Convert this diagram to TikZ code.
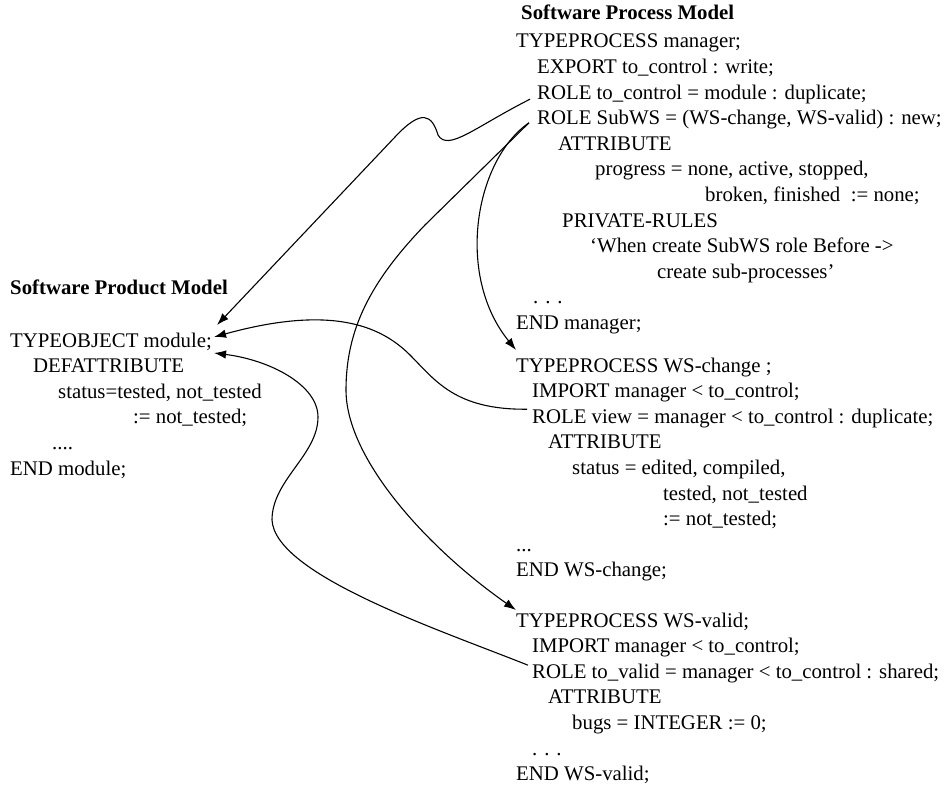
\documentclass[tikz,border=0pt]{standalone}
\usepackage{fontspec}
\setmainfont{Liberation Serif}
\usetikzlibrary{arrows.meta}
\newcommand{\codefont}{\fontsize{20.8}{25}\selectfont}

\begin{document}
\begin{tikzpicture}[x=1pt, y=-1pt,
    codeline/.style={anchor=base west, inner sep=0pt, font=\codefont},
    heading/.style={codeline, font=\codefont\bfseries},
    link/.style={-{Latex[length=12pt,width=8.5pt]}, line width=1.1pt},
  ]
  \useasboundingbox (0,0) rectangle (945,786);

  % Software Process Model
  \node[heading] (ptitle) at (521,20) {Software Process Model};
  \node[codeline] (pproc) at (516,48) {TYPEPROCESS manager;};
  \node[codeline] (pexport) at (537,73.6) {EXPORT to\_control : write;};
  \node[codeline] (pctrl) at (537,99.2) {ROLE to\_control = module : duplicate;};
  \node[codeline] (psub) at (537,124.8) {ROLE SubWS = (WS-change, WS-valid) : new;};
  \node[codeline] (pattr) at (558,150.4) {ATTRIBUTE};
  \node[codeline] (pprog) at (595,176) {progress = none, active, stopped,};
  \node[codeline] (pbroken) at (705,201.6) {broken, finished \ := none;};
  \node[codeline] (prules) at (562,227.2) {PRIVATE-RULES};
  \node[codeline] (pwhen) at (590,252.8) {`When create SubWS role Before ->};
  \node[codeline] (pcreate) at (657,278.4) {create sub-processes'};
  \node[codeline] (pdots) at (533,304) {. . .};
  \node[codeline] (pend) at (516,329.6) {END manager;};

  \node[codeline] (cproc) at (516,372) {TYPEPROCESS WS-change ;};
  \node[codeline] (cimport) at (532,397.6) {IMPORT manager < to\_control;};
  \node[codeline] (cview) at (532,423.2) {ROLE view = manager < to\_control : duplicate;};
  \node[codeline] (cattr) at (548,448.8) {ATTRIBUTE};
  \node[codeline] (cstatus) at (572,474.4) {status = edited, compiled,};
  \node[codeline] (ctested) at (663,500) {tested, not\_tested};
  \node[codeline] (cdefault) at (663,525.6) {:= not\_tested;};
  \node[codeline] (cdots) at (516,551.2) {...};
  \node[codeline] (cend) at (516,576.8) {END WS-change;};

  \node[codeline] (vproc) at (516,627) {TYPEPROCESS WS-valid;};
  \node[codeline] (vimport) at (532,652.6) {IMPORT manager < to\_control;};
  \node[codeline] (vrole) at (532,678.2) {ROLE to\_valid = manager < to\_control : shared;};
  \node[codeline] (vattr) at (548,703.8) {ATTRIBUTE};
  \node[codeline] (vbugs) at (572,729.4) {bugs = INTEGER := 0;};
  \node[codeline] (vdots) at (532,755) {. . .};
  \node[codeline] (vend) at (516,780.6) {END WS-valid;};

  % Software Product Model
  \node[heading] (otitle) at (10,295) {Software Product Model};
  \node[codeline] (omod) at (10,347) {TYPEOBJECT module;};
  \node[codeline] (odef) at (33,372.6) {DEFATTRIBUTE};
  \node[codeline] (ostatus) at (58,398.2) {status=tested, not\_tested};
  \node[codeline] (odefault) at (133,423.8) {:= not\_tested;};
  \node[codeline] (odots) at (52,449.4) {....};
  \node[codeline] (oend) at (10,475) {END module;};

  % role links
  \draw[link] ([xshift=-7pt]pctrl.base west) .. controls (475,127) and (448,152) .. (438,135)
    .. controls (432,115) and (422,108) .. (395,137) -- ([xshift=5pt,yshift=22pt]omod.base east);
  \draw[link] ([xshift=-8pt,yshift=2pt]psub.base west) .. controls (475,160) and (455,275)
    .. ([yshift=22pt]cproc.base west);
  \draw[link] ([xshift=-8pt,yshift=2pt]psub.base west) -- (425,225)
    .. controls (370,282) and (346,330) .. (346,390)
    .. controls (346,460) and (430,550) .. ([yshift=17pt]vproc.base west);
  \draw[link] ([xshift=-5pt,yshift=14pt]cview.base west) .. controls (455,410) and (435,380) .. (410,355)
    .. controls (380,325) and (330,305) .. ([xshift=2pt,yshift=10pt]omod.base east);
  \draw[link] ([xshift=-4pt,yshift=13pt]vrole.base west) .. controls (440,630) and (275,575) .. (272,520)
    .. controls (272,480) and (318,455) .. (318,417)
    .. controls (318,385) and (270,360) .. ([xshift=2pt,yshift=-6pt]omod.base east);
\end{tikzpicture}
\end{document}
